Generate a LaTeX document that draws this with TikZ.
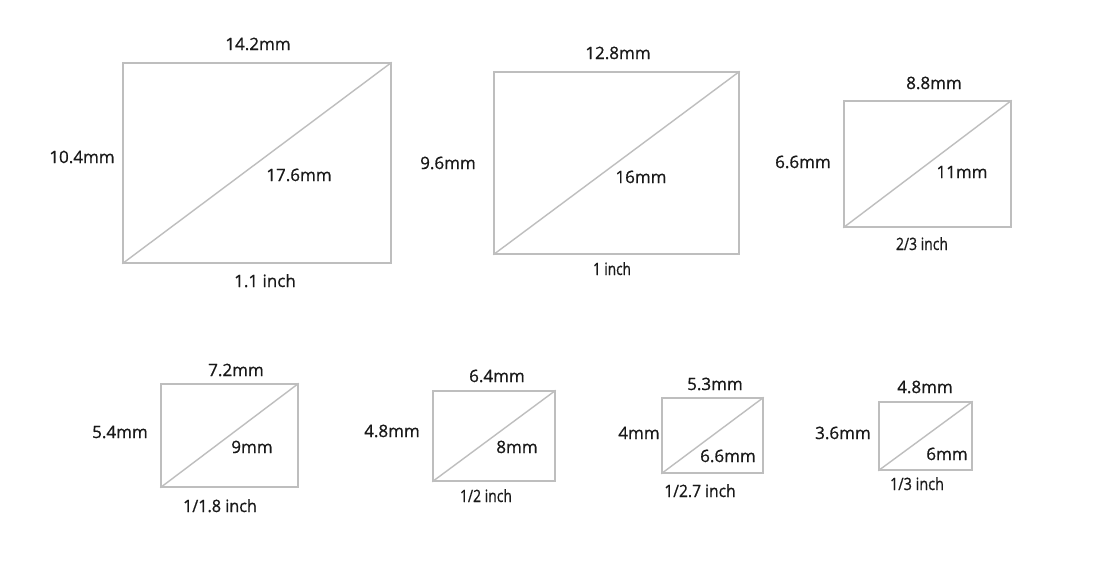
\documentclass[tikz,border=0pt]{standalone}
\usepackage{fontspec}
\setmainfont{Open Sans}[FakeBold=0.8]
\usepackage{graphicx}
\definecolor{linegray}{RGB}{190,190,190}
\definecolor{txt}{RGB}{25,25,25}
\begin{document}
\begin{tikzpicture}[x=1pt,y=-1pt,
  sensor/.style={draw=linegray, line width=1.4pt, inner sep=0pt, fill=none},
  diag/.style={draw=linegray, line width=1.4pt},
  lab/.style={inner sep=0pt, anchor=center, text=txt, font=\fontsize{17}{17}\selectfont, text height=12pt, text depth=0pt},
]
\useasboundingbox[fill=white] (0,0) rectangle (1100,563);
% rectangles
\node[sensor, minimum width=268pt, minimum height=200pt] (r1) at (257,163) {};
\node[sensor, minimum width=245pt, minimum height=182pt] (r2) at (616.5,163) {};
\node[sensor, minimum width=167pt, minimum height=126pt] (r3) at (927.5,164) {};
\node[sensor, minimum width=137pt, minimum height=103pt] (r4) at (229.5,435.5) {};
\node[sensor, minimum width=122pt, minimum height=90pt] (r5) at (494,436) {};
\node[sensor, minimum width=101pt, minimum height=75pt] (r6) at (712.5,435.5) {};
\node[sensor, minimum width=93pt, minimum height=68pt] (r7) at (925.5,436) {};
% diagonals
\foreach \r in {r1,r2,r3,r4,r5,r6,r7}{
  \draw[diag] (\r.south west) -- (\r.north east);
}
% labels r1
\node[lab] (w1) at (258,44) {14.2mm};
\node[lab] (h1) at (82,157) {10.4mm};
\node[lab] (d1) at (299,175) {17.6mm};
\node[lab] (i1) at (265,281) {1.1 inch};
% r2
\node[lab] (w2) at (618,53) {12.8mm};
\node[lab] (h2) at (448,163) {9.6mm};
\node[lab] (d2) at (641,177) {16mm};
\node[lab] (i2) at (612,269) {\scalebox{0.8}[1]{1 inch}};
% r3
\node[lab] (w3) at (934,83) {8.8mm};
\node[lab] (h3) at (803,162) {6.6mm};
\node[lab] (d3) at (962,172) {11mm};
\node[lab] (i3) at (922,244) {\scalebox{0.82}[1]{2/3 inch}};
% r4
\node[lab] (w4) at (236,370) {7.2mm};
\node[lab] (h4) at (120,432) {5.4mm};
\node[lab] (d4) at (252,447) {9mm};
\node[lab] (i4) at (220,506) {\scalebox{0.95}[1]{1/1.8 inch}};
% r5
\node[lab] (w5) at (497,376) {6.4mm};
\node[lab] (h5) at (392,431) {4.8mm};
\node[lab] (d5) at (517,447) {8mm};
\node[lab] (i5) at (486,496) {\scalebox{0.82}[1]{1/2 inch}};
% r6
\node[lab] (w6) at (715,384) {5.3mm};
\node[lab] (h6) at (639,433) {4mm};
\node[lab] (d6) at (728,456) {6.6mm};
\node[lab] (i6) at (700,491) {\scalebox{0.92}[1]{1/2.7 inch}};
% r7
\node[lab] (w7) at (925,387) {4.8mm};
\node[lab] (h7) at (843,433) {3.6mm};
\node[lab] (d7) at (947,454) {6mm};
\node[lab] (i7) at (917,484) {\scalebox{0.85}[1]{1/3 inch}};
\end{tikzpicture}
\end{document}
